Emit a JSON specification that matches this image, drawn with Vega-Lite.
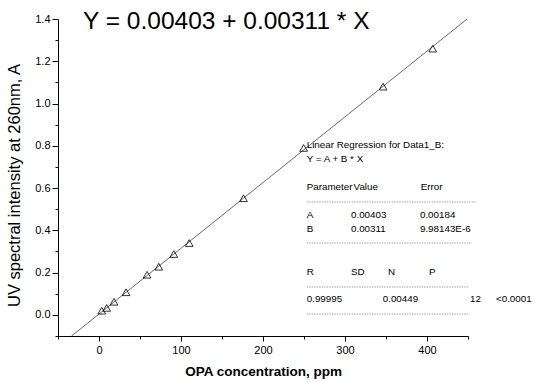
{
  "$schema": "https://vega.github.io/schema/vega-lite/v6.json",
  "width": 410,
  "height": 317,
  "autosize": "none",
  "padding": {"left": 58, "top": 19, "right": 67, "bottom": 46},
  "background": "white",
  "config": {
    "view": {"stroke": null},
    "font": "Liberation Sans",
    "axis": {
      "grid": false,
      "domainColor": "black",
      "tickColor": "black",
      "labelColor": "black",
      "titleColor": "black",
      "labelFont": "Liberation Sans",
      "titleFont": "Liberation Sans",
      "labelFontSize": 11,
      "domainWidth": 1,
      "tickWidth": 1,
      "labelOverlap": false
    }
  },
  "resolve": {"axis": {"x": "independent", "y": "independent"}},
  "datasets": {
    "pts": [
      {"c": 3.3, "a": 0.02},
      {"c": 9.4, "a": 0.033},
      {"c": 18.3, "a": 0.062},
      {"c": 33, "a": 0.107},
      {"c": 58.6, "a": 0.19},
      {"c": 72.9, "a": 0.228},
      {"c": 91.2, "a": 0.288},
      {"c": 110, "a": 0.34},
      {"c": 176.2, "a": 0.552},
      {"c": 249.5, "a": 0.79},
      {"c": 346.4, "a": 1.08},
      {"c": 407, "a": 1.26}
    ],
    "fit": [
      {"c": -33.44, "a": -0.1},
      {"c": 448.86, "a": 1.4}
    ],
    "notes": [
      {"t": "Linear Regression for Data1_B:", "c": 253.3, "a": 0.806},
      {"t": "Y = A + B * X", "c": 253.3, "a": 0.7375},
      {"t": "Parameter", "c": 253.3, "a": 0.605},
      {"t": "Value", "c": 310.5, "a": 0.605},
      {"t": "Error", "c": 392.3, "a": 0.605},
      {"t": "A", "c": 253.3, "a": 0.4725},
      {"t": "0.00403", "c": 307.3, "a": 0.4725},
      {"t": "0.00184", "c": 391.4, "a": 0.4725},
      {"t": "B", "c": 253.3, "a": 0.4063},
      {"t": "0.00311", "c": 307.3, "a": 0.4063},
      {"t": "9.98143E-6", "c": 391.4, "a": 0.4063},
      {"t": "R", "c": 253.3, "a": 0.203},
      {"t": "SD", "c": 307.3, "a": 0.203},
      {"t": "N", "c": 352.4, "a": 0.203},
      {"t": "P", "c": 402.4, "a": 0.203},
      {"t": "0.99995", "c": 253.3, "a": 0.075},
      {"t": "0.00449", "c": 346, "a": 0.075},
      {"t": "12", "c": 452.4, "a": 0.075},
      {"t": "<0.0001", "c": 484.1, "a": 0.075}
    ],
    "dashes": [
      {"c": 253.3, "c2": 459.8, "a": 0.534},
      {"c": 253.3, "c2": 454.9, "a": 0.34},
      {"c": 253.3, "c2": 450, "a": 0.132},
      {"c": 253.3, "c2": 450, "a": 0.004}
    ],
    "eq": [
      {"t": "Y = 0.00403 + 0.00311 * X", "c": -19.5, "a": 1.386}
    ]
  },
  "layer": [
    {
      "data": {"name": "fit"},
      "mark": {"type": "line", "color": "#444444", "strokeWidth": 0.8, "clip": true},
      "encoding": {
        "x": {
          "field": "c", "type": "quantitative",
          "scale": {"domain": [-50, 450], "nice": false, "zero": false},
          "axis": {
            "orient": "bottom",
            "title": "OPA concentration, ppm",
            "titleFontSize": 13.5,
            "titleFontWeight": "bold",
            "titlePadding": 9,
            "values": [0, 100, 200, 300, 400],
            "tickSize": 5,
            "labelPadding": 3,
            "labelFlush": false
          }
        },
        "y": {
          "field": "a", "type": "quantitative",
          "scale": {"domain": [-0.1, 1.4], "nice": false, "zero": false},
          "axis": {
            "orient": "left",
            "title": "UV spectral intensity at 260nm, A",
            "titleFontSize": 16.5,
            "titleFontWeight": "normal",
            "titleX": -36,
            "titleY": 166,
            "values": [0, 0.2, 0.4, 0.6, 0.8, 1.0, 1.2, 1.4],
            "format": ".1f",
            "tickSize": 6,
            "labelPadding": 2,
            "labelFlush": false
          }
        }
      }
    },
    {
      "data": {"name": "dashes"},
      "mark": {"type": "rule", "color": "#777777", "strokeWidth": 0.7, "strokeDash": [1.5, 1]},
      "encoding": {
        "x": {
          "field": "c", "type": "quantitative",
          "axis": {"orient": "bottom", "values": [-50, 50, 150, 250, 350, 450], "labels": false, "title": null, "domain": false, "tickSize": 3}
        },
        "x2": {"field": "c2"},
        "y": {
          "field": "a", "type": "quantitative",
          "axis": {"orient": "left", "values": [-0.1, 0.1, 0.3, 0.5, 0.7, 0.9, 1.1, 1.3], "labels": false, "title": null, "domain": false, "tickSize": 3}
        }
      }
    },
    {
      "data": {"name": "pts"},
      "mark": {"type": "point", "shape": "triangle-up", "filled": false, "stroke": "black", "strokeWidth": 0.8, "size": 60, "opacity": 1},
      "encoding": {
        "x": {"field": "c", "type": "quantitative", "axis": null},
        "y": {"field": "a", "type": "quantitative", "axis": null}
      }
    },
    {
      "data": {"name": "notes"},
      "mark": {"type": "text", "align": "left", "baseline": "middle", "fontSize": 9.8, "font": "Liberation Sans", "color": "black"},
      "encoding": {
        "x": {"field": "c", "type": "quantitative", "axis": null},
        "y": {"field": "a", "type": "quantitative", "axis": null},
        "text": {"field": "t"}
      }
    },
    {
      "data": {"name": "eq"},
      "mark": {"type": "text", "align": "left", "baseline": "middle", "fontSize": 24.5, "font": "Liberation Sans", "color": "black"},
      "encoding": {
        "x": {"field": "c", "type": "quantitative", "axis": null},
        "y": {"field": "a", "type": "quantitative", "axis": null},
        "text": {"field": "t"}
      }
    }
  ]
}
